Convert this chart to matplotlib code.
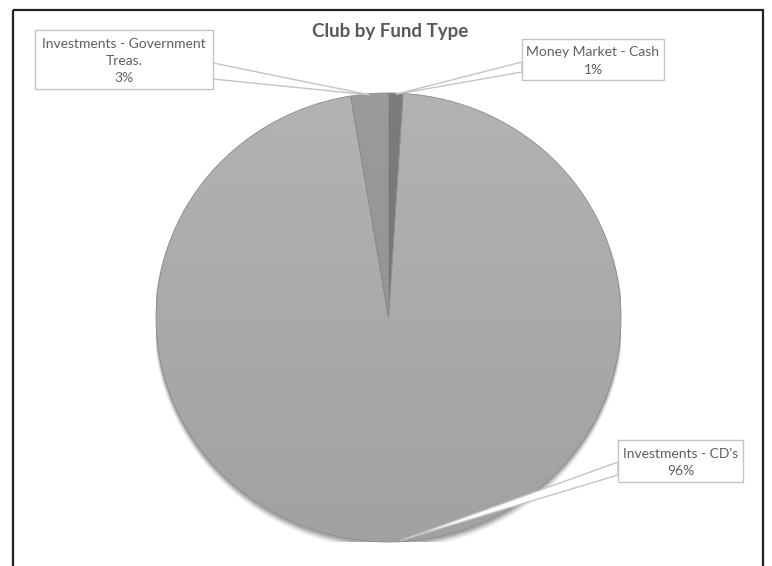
import numpy as np
import matplotlib
matplotlib.use('Agg')
import matplotlib.pyplot as plt
from matplotlib.patches import Rectangle, Polygon, Ellipse
import matplotlib.colors as mcolors

plt.rcParams['font.family'] = ['Lato', 'DejaVu Sans']

# ---- data ----
categories = ["Money Market - Cash", "Investments - CD's", "Investments - Government\nTreas."]
shares = [1.0, 96.4, 2.6]
pct_labels = ["1%", "96%", "3%"]
colors = ["#767678", "#aaaaac", "#949496"]
title = "Club by Fund Type"

W, H = 772, 566
fig = plt.figure(figsize=(W / 100, H / 100), dpi=100)

# ---- pie ----
cx, cy, rx, ry = 388.5, 317.5, 232.5, 224.5
ax = fig.add_axes([(cx - rx) / W, 1 - (cy + ry) / H, 2 * rx / W, 2 * ry / H])
wedges, _ = ax.pie(shares, colors=colors, startangle=90, counterclock=False, radius=1,
                   wedgeprops=dict(edgecolor='#8c8c8e', linewidth=0.6))
ax.set_aspect('auto')

# soft shadow under pie
for i, (dy, a) in enumerate([(-0.022, 0.10), (-0.016, 0.15), (-0.010, 0.25)]):
    ax.add_patch(Ellipse((0, dy), 2.0 + 0.006 * (3 - i), 2.0 + 0.006 * (3 - i),
                         facecolor='#404040', edgecolor='none', alpha=a, zorder=0.5))

# gradient fill clipped to each wedge
yy = np.linspace(1, 0, 256)[:, None]
for w, c in zip(wedges, colors):
    rgb = np.array(mcolors.to_rgb(c))
    fac = 0.95 + 0.10 * yy
    img = np.clip(rgb[None, None, :] * fac[:, :, None], 0, 1)
    img = np.repeat(img, 2, axis=1)
    im = ax.imshow(img, extent=[-1, 1, -1, 1], origin='upper', aspect='auto',
                   zorder=1, interpolation='bilinear')
    im.set_clip_path(w)
    w.set_facecolor('none')
    w.set_zorder(2)
ax.set_xlim(-1.0, 1.0)
ax.set_ylim(-1.0, 1.0)

# ---- overlay in pixel coords ----
ov = fig.add_axes([0, 0, 1, 1], zorder=5)
ov.set_xlim(0, W)
ov.set_ylim(H, 0)
ov.axis('off')
ov.patch.set_alpha(0)

# label boxes (x0, y0, x1, y1) and callout attach points
boxes = [(522, 39, 664, 80), (618, 440, 743, 482), (35, 30, 213, 89)]
attach = [((522, 62), (522, 72)), ((618, 462), (618, 475)), ((213, 63), (213, 79))]

inv = ov.transData.inverted()
for i, w in enumerate(wedges):
    mid = np.deg2rad((w.theta1 + w.theta2) / 2)
    tip = inv.transform(ax.transData.transform((0.995 * np.cos(mid), 0.995 * np.sin(mid))))
    (a1, a2) = attach[i]
    ov.add_patch(Polygon([a1, tuple(tip), a2], closed=True, facecolor='white',
                         edgecolor='#c4c4c4', linewidth=1.0, zorder=2))
    x0, y0, x1, y1 = boxes[i]
    ov.add_patch(Rectangle((x0, y0), x1 - x0, y1 - y0, facecolor='white',
                           edgecolor='#c4c4c4', linewidth=1.0, zorder=3))
    ov.text((x0 + x1) / 2, (y0 + y1) / 2 + 1.5, categories[i] + "\n" + pct_labels[i],
            ha='center', va='center', fontsize=10, color='#5f5f5f',
            linespacing=1.5, zorder=4)

ov.text(390, 32, title, ha='center', va='center', fontsize=13.5, fontweight='bold',
        color='#595959')

# chart border
ov.add_patch(Rectangle((12.5, 10), 750.5, 600, fill=False, edgecolor='#222222',
                       linewidth=1.6, zorder=6))

fig.savefig('out.png', dpi=100)
